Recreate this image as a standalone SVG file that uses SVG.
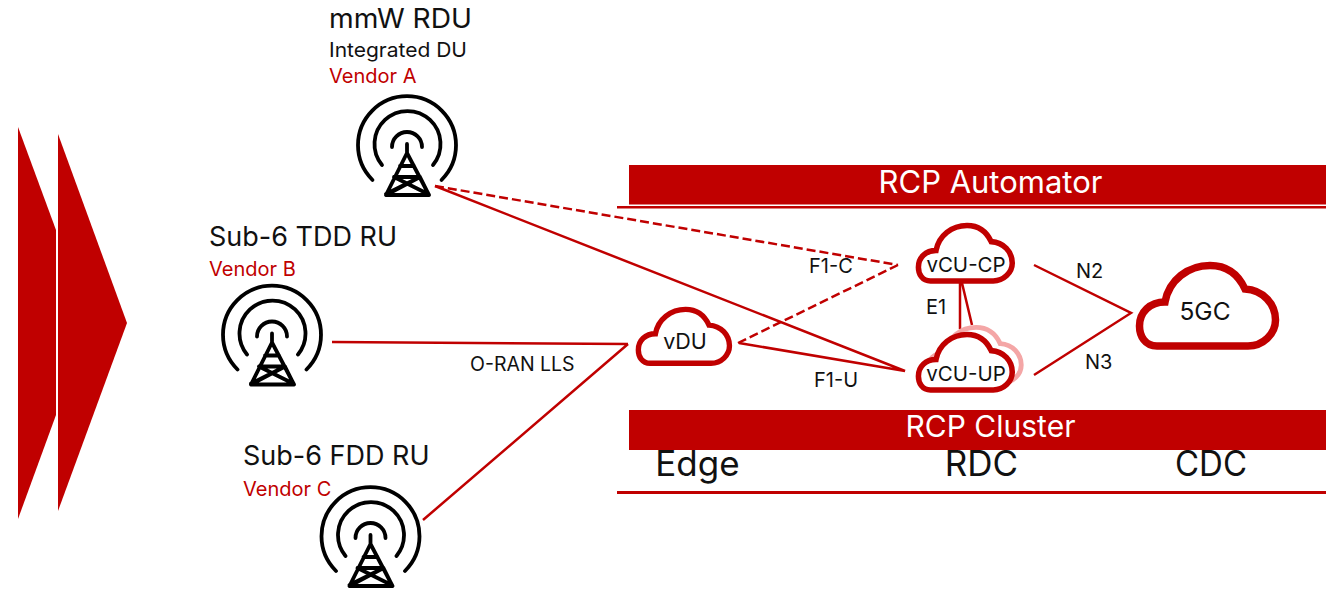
<svg xmlns="http://www.w3.org/2000/svg" xmlns:xlink="http://www.w3.org/1999/xlink" width="1341" height="589" viewBox="0 0 1341 589">
<style>
text{font-family:Inter,"Liberation Sans",sans-serif;fill:#111}
.r{fill:#c00000}
.red{fill:#c00000}
.wt{fill:#fff}
.t27{font-size:27px}.t20{font-size:20px}.t19{font-size:19.500px}.t30{font-size:30px}.t31{font-size:31px}.t35{font-size:35px}
.c{stroke:#c00000;stroke-width:2.5;fill:none}
.d{stroke-dasharray:9 4}
.cl{fill:#fff;stroke:#c00000;stroke-width:7.5}
.sm{stroke-width:8}
.gh{fill:#fff;stroke:#f4a6a6;stroke-width:7}
.tw{fill:none;stroke:#000;stroke-width:3.8;stroke-linecap:round;stroke-linejoin:round}
</style>
<defs>
<path id="cloud" d="M21,84C9,84 3.5,74 3.5,64C3.5,50 14,40 29,40C33,18 52,3.5 74,3.5C92,3.5 103,14 109,27C127,28 139.5,42 139.5,58C139.5,72 127,84 112,84Z"/>
<g id="tower" class="tw">
<path d="M-34.500,33A49,49 0 1 1 34.500,33M-25,18A33,33 0 1 1 26,18M-15,0A15,15 0 1 1 15,0"/>
<path d="M0,-3V6M0,6L-21,48H22ZM-7,19H7M-13,30H13L-21,48M13,30L22,48M-13,30L21,47M13,30L-21,47"/>
</g>
</defs>
<polygon class="r" points="18,127 56,230 56,415 18,519"/>
<polygon class="r" points="58,134 127,323 58,511"/>
<g id="connectors">
<path class="c d" d="M435,186L898,265M898,265L738,343"/>
<path class="c" d="M435,186L905,371L739,343M332,342L628,344M628,344L423,520"/>
<path class="c" d="M960,283V329M962,283L972,325M1034,265L1131,313L1034,375"/>
</g>
<g id="automator"><rect class="r" x="629" y="165" width="697" height="39.500"/><rect class="r" x="617" y="206" width="709" height="2.500"/><text class="t31 wt" x="990.500" y="193" text-anchor="middle">RCP Automator</text></g>
<g id="cluster"><rect class="r" x="629" y="410" width="697" height="40"/><text class="t30 wt" x="990.500" y="437" text-anchor="middle">RCP Cluster</text></g>
<rect class="r" x="617" y="491" width="709" height="3"/>
<text class="t35" x="697.500" y="476" text-anchor="middle">Edge</text>
<text class="t35" x="981.500" y="476" text-anchor="middle">RDC</text>
<text class="t35" x="1211" y="476" text-anchor="middle" textLength="72" lengthAdjust="spacingAndGlyphs">CDC</text>
<g id="mmw"><use xlink:href="#tower" x="407" y="147"/><text class="t27" x="329" y="28" textLength="143" lengthAdjust="spacingAndGlyphs">mmW RDU</text><text class="t20" x="329" y="57" textLength="138" lengthAdjust="spacingAndGlyphs">Integrated DU</text><text class="t20 red" x="329" y="83">Vendor A</text></g>
<g id="tdd"><use xlink:href="#tower" x="272" y="336.500"/><text class="t27" x="209" y="246">Sub-6 TDD RU</text><text class="t20 red" x="209" y="276">Vendor B</text></g>
<g id="fdd"><use xlink:href="#tower" x="370.500" y="538"/><text class="t27" x="243" y="465">Sub-6 FDD RU</text><text class="t20 red" x="243" y="496">Vendor C</text></g>
<g id="vdu"><use xlink:href="#cloud" class="cl sm" transform="translate(636,307) scale(.67)"/><text class="t20" x="685" y="349" text-anchor="middle" style="font-size:21.500px">vDU</text></g>
<g id="vcucp"><use xlink:href="#cloud" class="cl sm" transform="translate(916,223) scale(.69)"/><text class="t20" x="966" y="272" text-anchor="middle" style="font-size:20.500px">vCU-CP</text></g>
<g id="vcuup"><use xlink:href="#cloud" class="gh" transform="translate(925,325) scale(.69)"/><use xlink:href="#cloud" class="cl sm" transform="translate(916,332) scale(.69)"/><text class="t20" x="966" y="381" text-anchor="middle" style="font-size:20.500px">vCU-UP</text></g>
<g id="c5gc"><use xlink:href="#cloud" class="cl" transform="translate(1136,262)"/><text x="1205" y="320" text-anchor="middle" style="font-size:24.500px">5GC</text></g>
<g id="labels">
<text class="t20" x="809" y="273">F1-C</text><text class="t20" x="814" y="387">F1-U</text><text class="t20" x="926" y="314">E1</text><text class="t20" x="1076" y="278">N2</text><text class="t20" x="1085" y="369">N3</text><text class="t19" x="470" y="371">O-RAN LLS</text>
</g>
</svg>
